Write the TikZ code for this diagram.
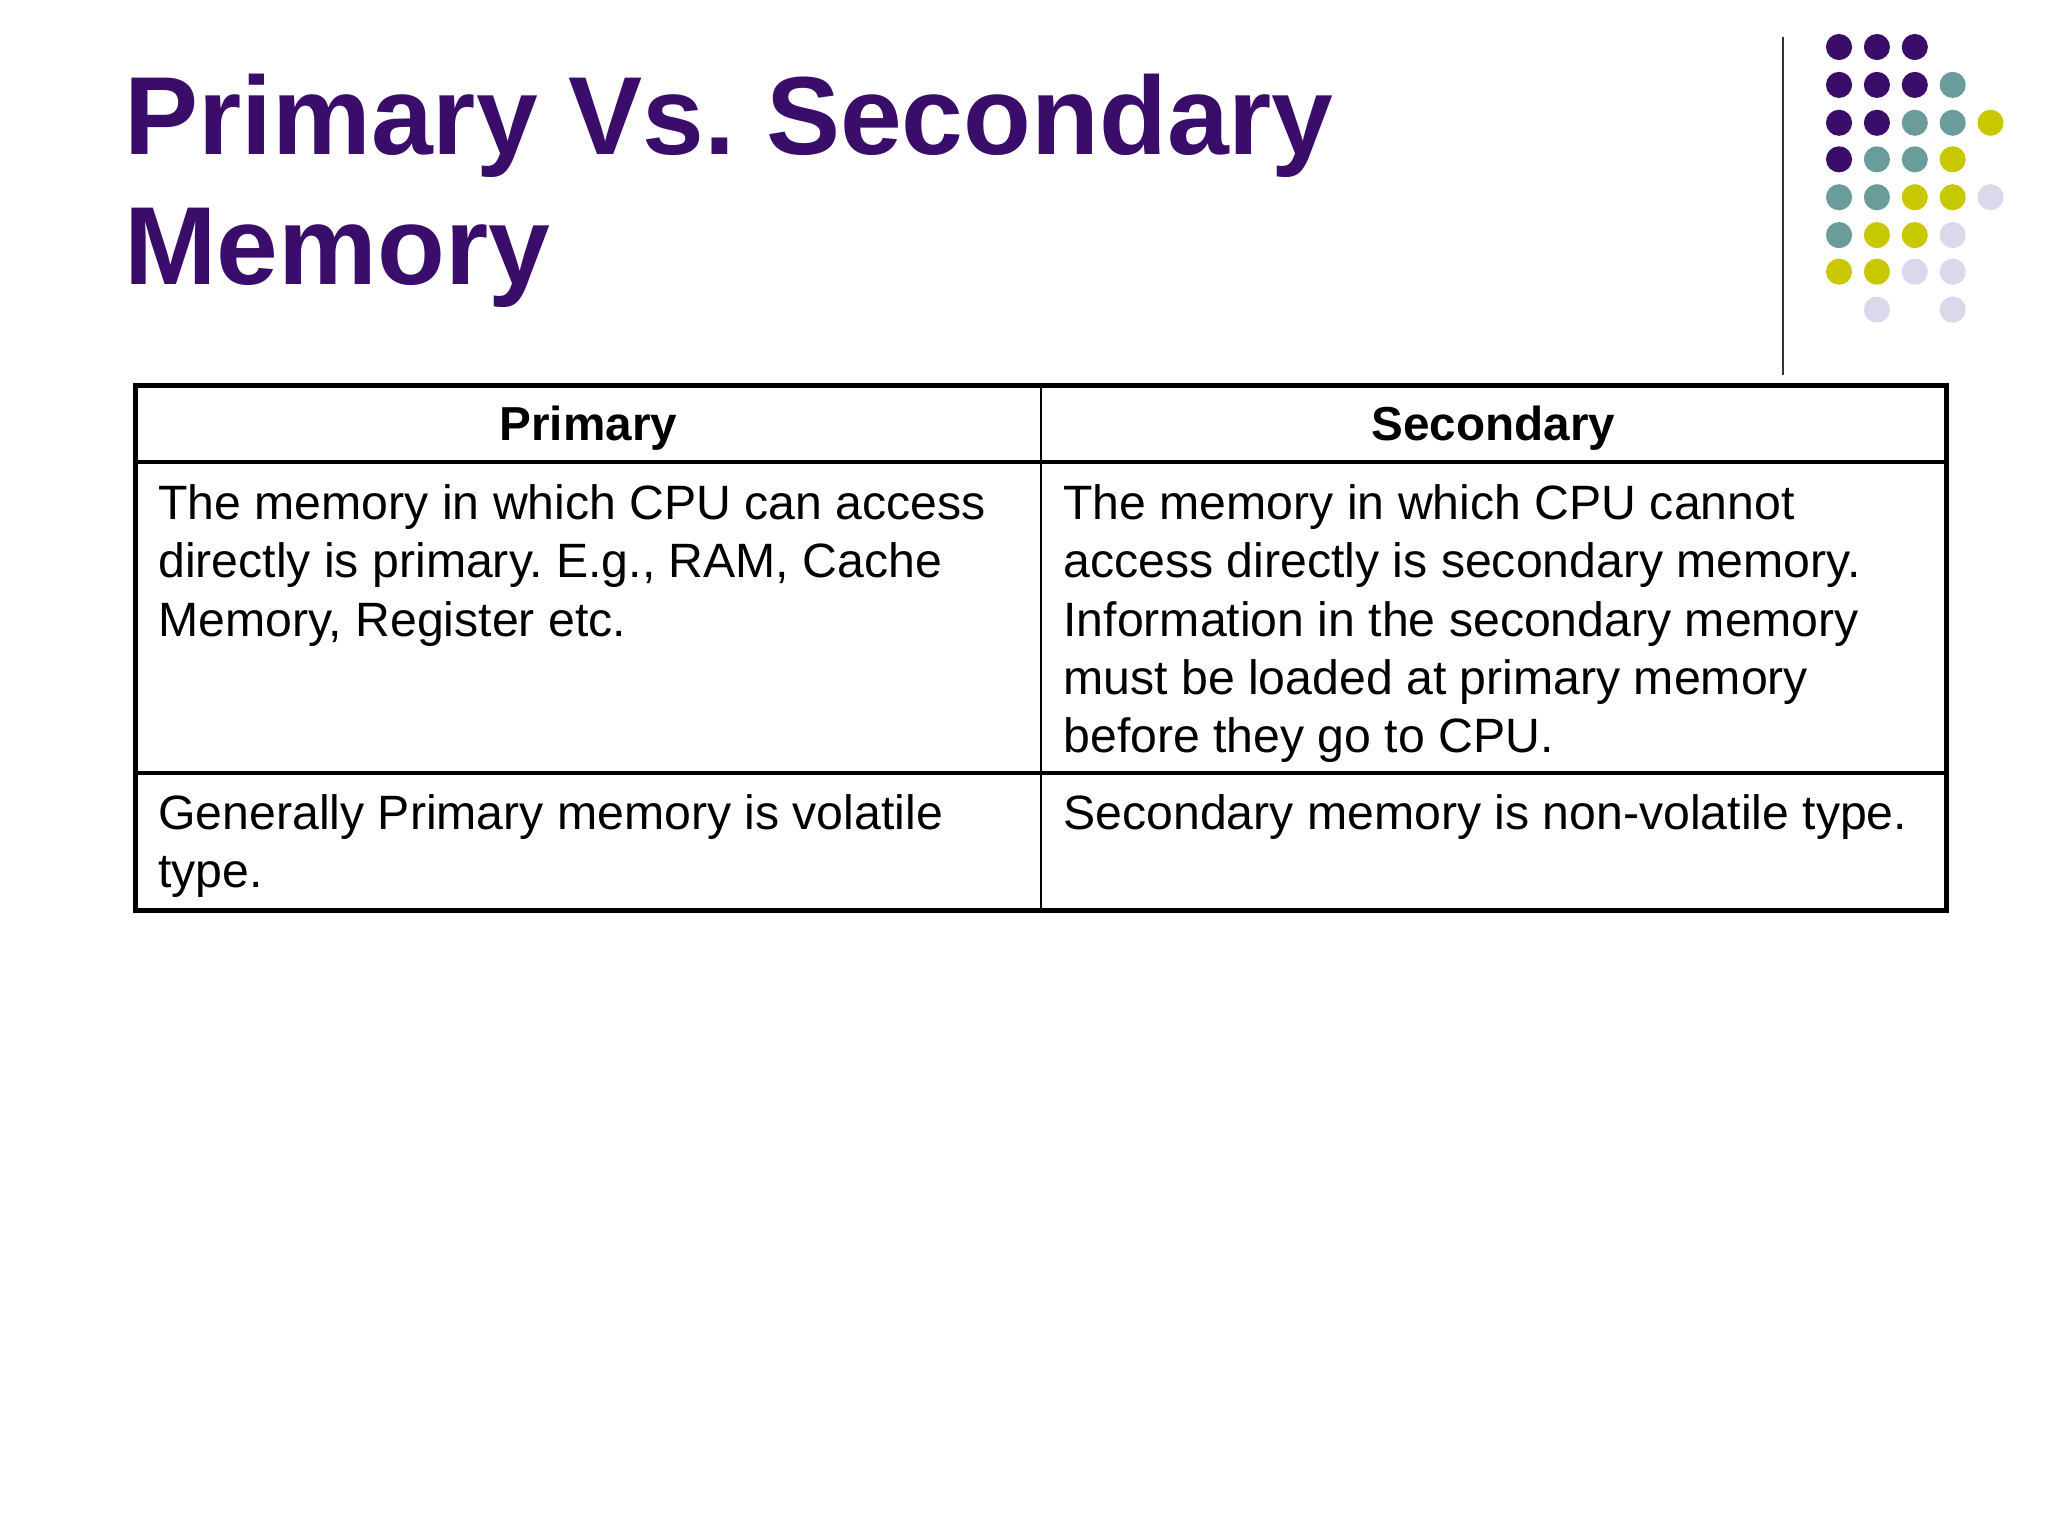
\documentclass[tikz,border=0pt]{standalone}
\usepackage{fontspec}
\setmainfont{Liberation Sans}
\frenchspacing
\definecolor{ttl}{HTML}{3A0D6B}
\definecolor{dp}{HTML}{3A0D6B}
\definecolor{dt}{HTML}{6A9C9C}
\definecolor{dy}{HTML}{C8C800}
\definecolor{dl}{HTML}{DAD8EA}
\begin{document}
\begin{tikzpicture}[x=1pt,y=-1pt,
  body/.style={anchor=north west,align=left,inner sep=0pt,font=\fontsize{36.9}{44.5}\selectfont},
  hd/.style={font=\bfseries\fontsize{36.5}{40}\selectfont,inner sep=0pt},
  dot/.style={circle,inner sep=0pt,minimum size=20pt,fill=#1}]
\useasboundingbox[fill=white] (0,0) rectangle (1568,1176);
\node[anchor=base west,inner sep=0pt,text=ttl,font=\bfseries\fontsize{85}{100}\selectfont] (t1) at (95,118) {Primary Vs. Secondary};
\node[anchor=base west,inner sep=0pt,text=ttl,font=\bfseries\fontsize{85}{100}\selectfont] (t2) at (95,218) {Memory};
\draw[line width=1.5pt,black!80] (1365,28) -- (1365,287);
\foreach \r/\list in {36/{p,p,p},65/{p,p,p,t},94/{p,p,t,t,y},122/{p,t,t,y},151/{t,t,y,y,l},180/{t,y,y,l},208/{y,y,l,l}}{
  \foreach \c [count=\i from 0] in \list { \node[dot=d\c] (d\r\i) at (1408+29*\i,\r) {}; } }
\node[dot=dl] (e1) at (1437,237) {};
\node[dot=dl] (e2) at (1495,237) {};
% table
\draw[line width=1.5pt] (797,295) -- (797,697);
\draw[line width=3pt] (104,354) -- (1490,354);
\draw[line width=3pt] (104,592) -- (1490,592);
\draw[line width=4pt] (104,295) rectangle (1490,697);
\node[hd] (h1) at (450.5,328) {Primary};
\node[hd] (h2) at (1143.5,328) {Secondary};
\node[body] (a1) at (121,371) {The memory in which CPU can access\\directly is primary. E.g., RAM, Cache\\Memory, Register etc.};
\node[body] (a2) at (814,371) {The memory in which CPU cannot\\access directly is secondary memory.\\Information in the secondary memory\\must be loaded at primary memory\\before they go to CPU.};
\node[body] (b1) at (121,608) {Generally Primary memory is volatile\\type.};
\node[body] (b2) at (814,608) {Secondary memory is non-volatile type.};
\end{tikzpicture}
\end{document}
